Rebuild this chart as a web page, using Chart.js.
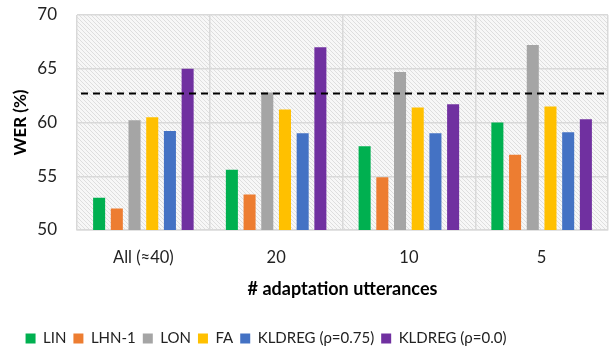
<!DOCTYPE html>
<html>
<head>
<meta charset="utf-8">
<script src="https://cdn.jsdelivr.net/npm/chart.js@4"></script>
<style>
  html, body { margin: 0; padding: 0; background: #fff; }
  #wrap { width: 609px; height: 347px; }
</style>
</head>
<body>
<div id="wrap"><canvas id="myChart"></canvas></div>
<script>
const categories = ["All (\u224840)", "20", "10", "5"];
const seriesNames = ["LIN", "LHN-1", "LON", "FA", "KLDREG (\u03c1=0.75)", "KLDREG (\u03c1=0.0)"];
const linVals = [53.0, 55.6, 57.8, 60.0];
const lhnVals = [52.0, 53.3, 54.9, 57.0];
const lonVals = [60.2, 62.8, 64.7, 67.2];
const faVals = [60.5, 61.2, 61.4, 61.5];
const kld075Vals = [59.2, 59.0, 59.0, 59.1];
const kld00Vals = [65.0, 67.0, 61.7, 60.3];
const baseline = 62.7;
const yTicks = [50, 55, 60, 65, 70];

const colors = ["#00B050", "#ED7D31", "#A5A5A5", "#FFC000", "#4472C4", "#7030A0"];
const allVals = [linVals, lhnVals, lonVals, faVals, kld075Vals, kld00Vals];

function makePattern() {
  const c = document.createElement("canvas");
  c.width = 4; c.height = 4;
  const g = c.getContext("2d");
  g.fillStyle = "#f7f7f7";
  g.fillRect(0, 0, 4, 4);
  g.strokeStyle = "#dedede";
  g.lineWidth = 1;
  g.beginPath();
  g.moveTo(0, 0); g.lineTo(4, 4);
  g.moveTo(-1, 3); g.lineTo(1, 5);
  g.moveTo(3, -1); g.lineTo(5, 1);
  g.stroke();
  return g.createPattern(c, "repeat");
}

const bgPlugin = {
  id: "hatchBg",
  beforeDraw(chart) {
    const a = chart.chartArea;
    const ctx = chart.ctx;
    ctx.save();
    ctx.fillStyle = makePattern();
    ctx.fillRect(a.left, a.top, a.right - a.left, a.bottom - a.top);
    ctx.restore();
  }
};

const lineplugin = {
  id: "baseline",
  afterDatasetsDraw(chart) {
    const a = chart.chartArea;
    const y = chart.scales.y.getPixelForValue(baseline);
    const ctx = chart.ctx;
    ctx.save();
    ctx.strokeStyle = "#000";
    ctx.lineWidth = 2;
    ctx.setLineDash([7, 5]);
    ctx.beginPath();
    ctx.moveTo(a.left + 4, y);
    ctx.lineTo(a.right - 4, y);
    ctx.stroke();
    ctx.restore();
  }
};

// the legend in the original sits a bit left of centre and low
const legendShift = {
  id: "legendShift",
  afterLayout(chart) {
    const lg = chart.legend;
    lg.left -= 38;
    lg.right -= 38;
    lg.top += 9;
    lg.bottom += 9;
  }
};

const font = "Lato, 'Open Sans', sans-serif";

const ctx = document.getElementById("myChart").getContext("2d");
new Chart(ctx, {
  type: "bar",
  data: {
    labels: categories,
    datasets: seriesNames.map((name, i) => ({
      label: name,
      data: allVals[i],
      backgroundColor: colors[i],
      borderWidth: 0,
      categoryPercentage: 0.8,
      barPercentage: 0.68
    }))
  },
  options: {
    responsive: true,
    maintainAspectRatio: false,
    animation: false,
    layout: { padding: { top: 15, right: 1, left: 0, bottom: 0 } },
    plugins: {
      tooltip: { enabled: false },
      legend: {
        position: "bottom",
        labels: {
          font: { family: font, size: 15 },
          color: "#222",
          boxWidth: 10,
          boxHeight: 10,
          padding: 7
        }
      }
    },
    scales: {
      x: {
        grid: { color: "#d9d9d9", lineWidth: 1.5, drawTicks: false },
        border: { color: "#d9d9d9", width: 1.5 },
        ticks: { font: { family: font, size: 16.5 }, color: "#222", padding: 18 },
        title: {
          display: true,
          text: "# adaptation utterances",
          font: { family: font, size: 18, weight: "bold" },
          color: "#000",
          padding: { top: 0, bottom: 15 }
        },
        afterFit(s) {
          s.height = 85;
          s.paddingLeft = 0;
          s.paddingRight = 0;
        }
      },
      y: {
        min: 50,
        max: 70,
        afterBuildTicks(axis) { axis.ticks = yTicks.map(v => ({ value: v })); },
        grid: { color: "#d9d9d9", lineWidth: 1.5, drawTicks: false },
        border: { display: false },
        ticks: { font: { family: font, size: 17 }, color: "#222", padding: 20 },
        title: {
          display: true,
          text: "WER (%)",
          font: { family: font, size: 17, weight: "bold" },
          color: "#000",
          padding: { top: 10, bottom: 0 }
        },
        afterFit(s) {
          s.width = 77;
          s.paddingTop = 0;
          s.paddingBottom = 0;
        }
      }
    }
  },
  plugins: [bgPlugin, lineplugin, legendShift]
});
</script>
</body>
</html>
